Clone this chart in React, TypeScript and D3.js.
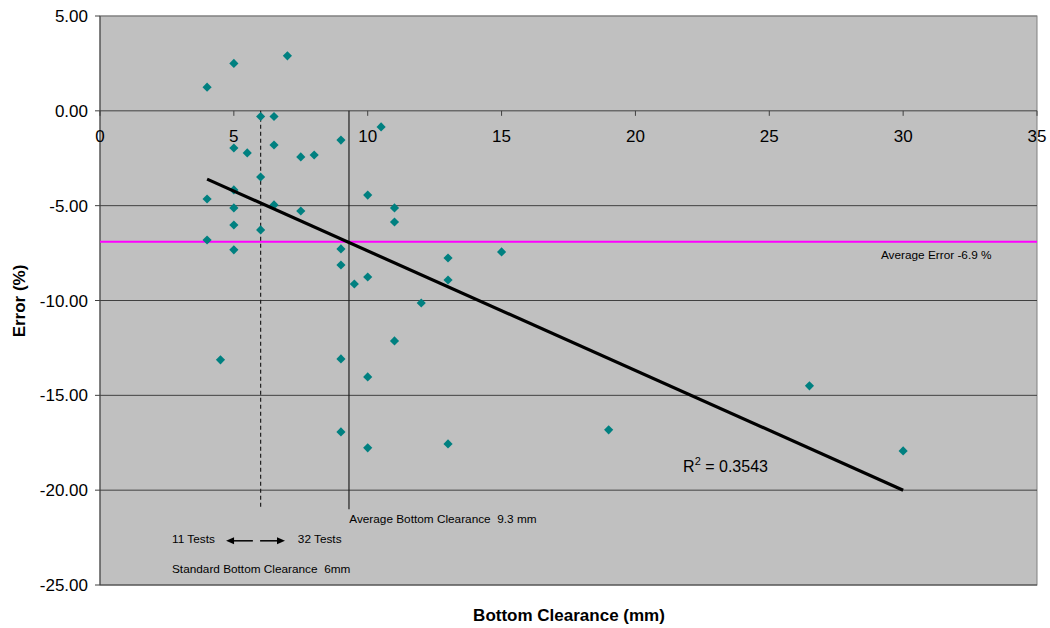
import * as d3 from 'd3';

// bottom clearance (mm) and error (%) for each test
const clearance = [4, 5, 7, 6, 6.5, 10.5, 5, 5.5, 6.5, 7.5, 8, 9, 6, 5, 4, 6.5, 5, 7.5, 10, 11, 11, 5, 6, 4, 5, 9, 9, 9.5, 10, 13, 13, 15, 12, 11, 4.5, 9, 10, 9, 10, 13, 19, 26.5, 30];
const errorPct = [1.25, 2.5, 2.9, -0.3, -0.3, -0.85, -1.96, -2.22, -1.8, -2.43, -2.33, -1.54, -3.49, -4.17, -4.65, -4.96, -5.12, -5.28, -4.44, -5.12, -5.86, -6.02, -6.28, -6.81, -7.33, -7.28, -8.13, -9.13, -8.76, -7.76, -8.92, -7.44, -10.13, -12.13, -13.13, -13.08, -14.03, -16.93, -17.77, -17.56, -16.82, -14.5, -17.93];

const xTicks = [0, 5, 10, 15, 20, 25, 30, 35];
const yTicks = [5, 0, -5, -10, -15, -20, -25];

const trendX = [4, 30];
const trendY = [-3.6, -20.0];

const avgError = -6.9;
const avgClearance = 9.3;
const stdClearance = 6;
const markerBottom = -21;

const W = 1050;
const H = 628;
const font = "Arial, 'Liberation Sans', sans-serif";

export default function App() {
    var x = d3.scaleLinear().domain([0, 35]).range([100, 1037]);
    var y = d3.scaleLinear().domain([5, -25]).range([16, 585]);

    var diamond = d3.symbol(d3.symbolSquare, 42)();
    var trend = d3.line<number>()
        .x(d => x(trendX[d]))
        .y(d => y(trendY[d]));

    // arrow row under the chart
    var arrowY = y(-22.67);
    var small = 11.8;

    return (
        <svg width={W} height={H} style={{ position: 'absolute', left: 0, top: 0 }} fontFamily={font}>
            <rect x={0} y={0} width={W} height={H} fill="#fff" />
            <rect x={x(0)} y={y(5)} width={x(35) - x(0)} height={y(-25) - y(5)} fill="#c0c0c0" stroke="#808080" strokeWidth={1} />

            {/* horizontal grid */}
            {yTicks.map(t => (
                <line key={'g' + t} x1={x(0)} x2={x(35)} y1={y(t)} y2={y(t)} stroke={t === 5 ? '#808080' : '#404040'} strokeWidth={1} />
            ))}

            {/* y axis */}
            <line x1={x(0)} x2={x(0)} y1={y(5)} y2={y(-25)} stroke="#404040" strokeWidth={1} />
            {yTicks.map(t => (
                <g key={'y' + t}>
                    <line x1={x(0) - 5} x2={x(0)} y1={y(t)} y2={y(t)} stroke="#404040" />
                    <text x={88} y={y(t) + 6} textAnchor="end" fontSize={17} fill="#000">{t.toFixed(2)}</text>
                </g>
            ))}

            {/* x axis through zero */}
            {xTicks.map(t => (
                <g key={'x' + t}>
                    <line x1={x(t)} x2={x(t)} y1={y(0)} y2={y(0) + 5} stroke="#404040" />
                    <text x={x(t)} y={y(0) + 31} textAnchor="middle" fontSize={17} fill="#000">{t}</text>
                </g>
            ))}

            {/* average error */}
            <line x1={x(0)} x2={x(35)} y1={y(avgError)} y2={y(avgError)} stroke="#ff00ff" strokeWidth={2} />

            {/* clearance markers */}
            <line x1={x(stdClearance)} x2={x(stdClearance)} y1={y(0)} y2={y(markerBottom)} stroke="#202020" strokeWidth={1.2} strokeDasharray="4,3" />
            <line x1={x(avgClearance)} x2={x(avgClearance)} y1={y(0)} y2={y(markerBottom)} stroke="#202020" strokeWidth={1.2} />

            {clearance.map((c, i) => (
                <path key={'p' + i} d={diamond} transform={`translate(${x(c)},${y(errorPct[i])}) rotate(45)`} fill="#008080" />
            ))}

            <path d={trend([0, 1]) || ''} fill="none" stroke="#000" strokeWidth={3.2} />

            {/* annotations */}
            <text x={x(21.78)} y={y(-19.02)} fontSize={16} fill="#000">
                R<tspan dy={-7} fontSize={11}>2</tspan><tspan dy={7}> = 0.3543</tspan>
            </text>
            <text x={x(29.17)} y={y(-7.81)} fontSize={small} fill="#000">Average Error -6.9 %</text>
            <text x={x(9.31)} y={y(-21.71)} fontSize={small} fill="#000" style={{ whiteSpace: 'pre' }}>Average Bottom Clearance  9.3 mm</text>
            <text x={x(2.69)} y={y(-22.78)} fontSize={small} fill="#000">11 Tests</text>
            <text x={x(7.39)} y={y(-22.78)} fontSize={small} fill="#000">32 Tests</text>
            <text x={x(2.69)} y={y(-24.35)} fontSize={small} fill="#000" style={{ whiteSpace: 'pre' }}>Standard Bottom Clearance  6mm</text>

            <line x1={x(4.95)} x2={x(5.71)} y1={arrowY} y2={arrowY} stroke="#000" strokeWidth={1.5} />
            <path d={`M${x(4.71)},${arrowY} l8,-3.5 l0,7 z`} fill="#000" />
            <line x1={x(5.98)} x2={x(6.66)} y1={arrowY} y2={arrowY} stroke="#000" strokeWidth={1.5} />
            <path d={`M${x(6.91)},${arrowY} l-8,-3.5 l0,7 z`} fill="#000" />

            {/* axis titles */}
            <text x={569} y={621} textAnchor="middle" fontSize={17} fontWeight="bold" fill="#000">Bottom Clearance (mm)</text>
            <text transform="translate(25,301) rotate(-90)" textAnchor="middle" fontSize={17} fontWeight="bold" fill="#000">Error (%)</text>
        </svg>
    );
}
